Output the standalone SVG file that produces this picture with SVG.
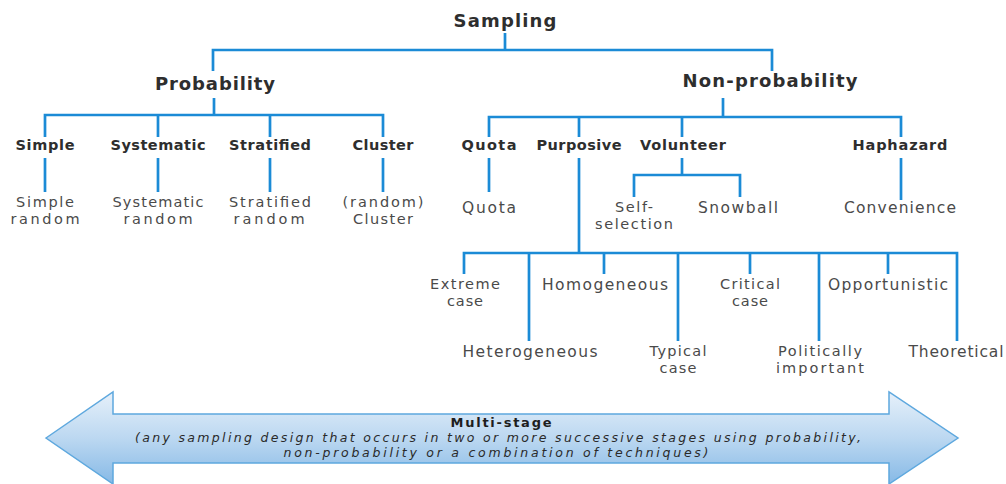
<svg xmlns="http://www.w3.org/2000/svg" width="1006" height="484" viewBox="0 0 1006 484">
  <defs>
    <linearGradient id="arrowFill" x1="0" y1="0" x2="0" y2="1">
      <stop offset="0" stop-color="#e6f0fa"/>
      <stop offset="0.5" stop-color="#bcd8f1"/>
      <stop offset="1" stop-color="#86b9e6"/>
    </linearGradient>
    <style>
      .link { fill: none; stroke: #1b8bd6; stroke-width: 2.7; stroke-linejoin: miter; }
      .title { font-family: "DejaVu Sans", sans-serif; font-weight: bold; font-size: 18px; fill: #2e2e2e; text-anchor: middle; }
      .type { font-family: "DejaVu Sans", sans-serif; font-weight: bold; font-size: 14.5px; fill: #2e2e2e; text-anchor: middle; }
      .kind { font-family: "DejaVu Sans", sans-serif; font-size: 15.5px; fill: #4a4a4a; text-anchor: middle; }
      .kind2 { font-family: "DejaVu Sans", sans-serif; font-size: 14.5px; fill: #4a4a4a; text-anchor: middle; }
      .band-title { font-family: "DejaVu Sans", sans-serif; font-weight: bold; font-size: 13px; fill: #1e1e1e; text-anchor: middle; }
      .band-note { font-family: "DejaVu Sans", sans-serif; font-style: italic; font-size: 12.5px; fill: #2a2a2a; text-anchor: middle; }
    </style>
  </defs>

  <rect width="1006" height="484" fill="#ffffff"/>

  <!-- tree connectors -->
  <g id="connectors">
    <path class="link" d="M505,33 V50"/>
    <path class="link" d="M213,71 V50 H772 V71"/>
    <!-- probability branch -->
    <path class="link" d="M214,98 V115"/>
    <path class="link" d="M45,137 V115 H383 V137"/>
    <path class="link" d="M158,115 V137 M270,115 V137"/>
    <path class="link" d="M45,158 V192 M158,158 V192 M270,158 V192 M383,158 V192"/>
    <!-- non-probability branch -->
    <path class="link" d="M723,98 V117"/>
    <path class="link" d="M489,137 V117 H901 V137"/>
    <path class="link" d="M579,117 V137 M682,117 V137"/>
    <path class="link" d="M489,158 V192"/>
    <path class="link" d="M682,158 V175"/>
    <path class="link" d="M634,197 V175 H740 V197"/>
    <path class="link" d="M901,158 V200"/>
    <!-- purposive sub-types -->
    <path class="link" d="M579,158 V253"/>
    <path class="link" d="M464,274 V253 H957 V341"/>
    <path class="link" d="M529,253 V341 M604,253 V274 M678,253 V341 M750,253 V274 M819,253 V341 M888,253 V274"/>
  </g>

  <!-- top levels -->
  <g id="sampling"><text class="title" x="505" y="27" textLength="103">Sampling</text></g>
  <g id="probability"><text class="title" x="215" y="90" textLength="120">Probability</text></g>
  <g id="non-probability"><text class="title" x="770" y="87" textLength="175">Non-probability</text></g>

  <!-- probability designs -->
  <g id="simple">
    <text class="type" x="45" y="150" textLength="59">Simple</text>
    <text class="kind2" x="45" y="206.5" textLength="58">Simple</text>
    <text class="kind2" x="45" y="223.5" textLength="69">random</text>
  </g>
  <g id="systematic">
    <text class="type" x="158" y="150" textLength="95">Systematic</text>
    <text class="kind2" x="158" y="206.5" textLength="91">Systematic</text>
    <text class="kind2" x="158" y="223.5" textLength="69">random</text>
  </g>
  <g id="stratified">
    <text class="type" x="270" y="150" textLength="82">Stratified</text>
    <text class="kind2" x="270" y="206.5" textLength="82">Stratified</text>
    <text class="kind2" x="269" y="223.5" textLength="71">random</text>
  </g>
  <g id="cluster">
    <text class="type" x="383" y="150" textLength="61">Cluster</text>
    <text class="kind2" x="383" y="206.5" textLength="81">(random)</text>
    <text class="kind2" x="383" y="223.5" textLength="60">Cluster</text>
  </g>

  <!-- non-probability designs -->
  <g id="quota">
    <text class="type" x="489" y="150" textLength="55">Quota</text>
    <text class="kind" x="489" y="213" textLength="54">Quota</text>
  </g>
  <g id="purposive">
    <text class="type" x="579" y="150" textLength="85">Purposive</text>
  </g>
  <g id="volunteer">
    <text class="type" x="683" y="150" textLength="86">Volunteer</text>
  </g>
  <g id="self-selection">
    <text class="kind2" x="634" y="212" textLength="38">Self-</text>
    <text class="kind2" x="634" y="229" textLength="78">selection</text>
  </g>
  <g id="snowball"><text class="kind" x="738" y="213" textLength="80">Snowball</text></g>
  <g id="haphazard">
    <text class="type" x="900" y="150" textLength="95">Haphazard</text>
    <text class="kind" x="900" y="213" textLength="112">Convenience</text>
  </g>

  <!-- purposive sub-types -->
  <g id="extreme-case">
    <text class="kind2" x="465" y="289" textLength="70">Extreme</text>
    <text class="kind2" x="465" y="306" textLength="36">case</text>
  </g>
  <g id="heterogeneous"><text class="kind" x="530" y="357" textLength="135">Heterogeneous</text></g>
  <g id="homogeneous"><text class="kind" x="605" y="290" textLength="126">Homogeneous</text></g>
  <g id="typical-case">
    <text class="kind2" x="678" y="356" textLength="57">Typical</text>
    <text class="kind2" x="678" y="373" textLength="37">case</text>
  </g>
  <g id="critical-case">
    <text class="kind2" x="750" y="289" textLength="60">Critical</text>
    <text class="kind2" x="750" y="306" textLength="36">case</text>
  </g>
  <g id="politically-important">
    <text class="kind2" x="820" y="356" textLength="84">Politically</text>
    <text class="kind2" x="820" y="373" textLength="88">important</text>
  </g>
  <g id="opportunistic"><text class="kind" x="888" y="290" textLength="120">Opportunistic</text></g>
  <g id="theoretical"><text class="kind" x="956" y="357" textLength="95">Theoretical</text></g>

  <!-- multi-stage band: double-headed arrow -->
  <g id="multi-stage">
    <polygon points="46,438 113,392 113,414 889,414 889,392 958,438 889,484 889,463 113,463 113,484"
             fill="url(#arrowFill)" stroke="#5ea8de" stroke-width="1.5" stroke-linejoin="miter"/>
    <text class="band-title" x="501" y="426.5" textLength="101">Multi-stage</text>
    <text class="band-note" x="498" y="441.5" textLength="726">(any sampling design that occurs in two or more successive stages using probability,</text>
    <text class="band-note" x="496" y="456.5" textLength="425">non-probability or a combination of techniques)</text>
  </g>
</svg>
